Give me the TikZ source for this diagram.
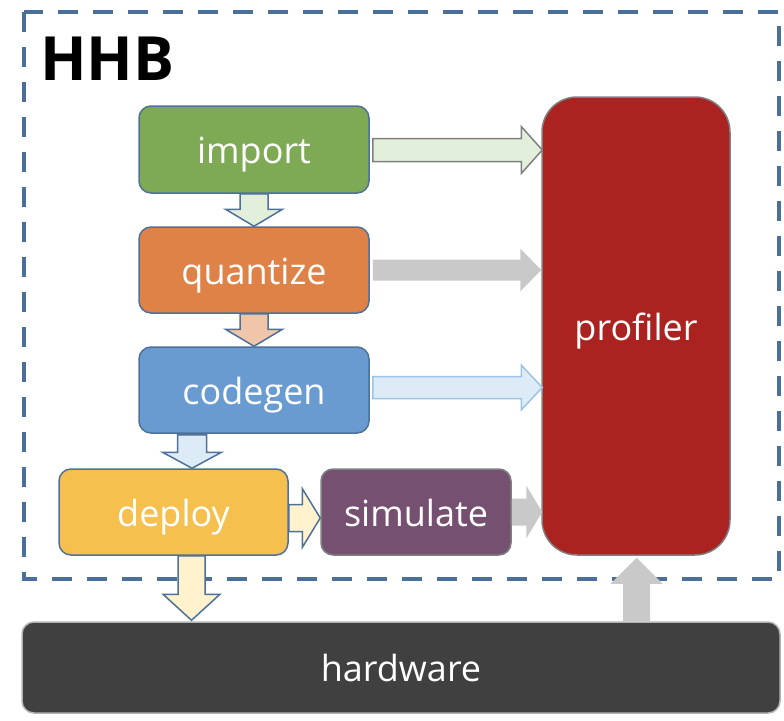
\documentclass[tikz,border=0pt]{standalone}
\usepackage{fontspec}
\setmainfont{Open Sans}
\usetikzlibrary{calc}
\definecolor{cgreen}{HTML}{7EAA55}
\definecolor{corange}{HTML}{DE8248}
\definecolor{cblue}{HTML}{6A9BD0}
\definecolor{cyellow}{HTML}{F5C04E}
\definecolor{cpurple}{HTML}{765071}
\definecolor{cred}{HTML}{AA2320}
\definecolor{cdark}{HTML}{404040}
\definecolor{cborder}{HTML}{4E7099}
\definecolor{cdash}{HTML}{4A6F99}
\definecolor{lgreen}{HTML}{E2EFDA}
\definecolor{lpeach}{HTML}{F0C6AA}
\definecolor{lblue}{HTML}{DDEBF7}
\definecolor{lblueb}{HTML}{9DC3E6}
\definecolor{lyellow}{HTML}{FFF2CC}
\definecolor{cgray}{HTML}{C9C9C9}
\definecolor{cgrayb}{HTML}{808080}
\newcommand\harrow[6]{\path[#1] let \p1=#2, \p2=#3 in
  (\x1,\y1+#4) -- (\x2-#6,\y1+#4) -- (\x2-#6,\y1+#5) -- (\x2,\y1) --
  (\x2-#6,\y1-#5) -- (\x2-#6,\y1-#4) -- (\x1,\y1-#4) -- cycle;}
\newcommand\varrow[6]{\path[#1] let \p1=#2, \p2=#3 in
  (\x1-#4,\y1) -- (\x1-#4,\y2+#6) -- (\x1-#5,\y2+#6) -- (\x1,\y2) --
  (\x1+#5,\y2+#6) -- (\x1+#4,\y2+#6) -- (\x1+#4,\y1) -- cycle;}
\tikzset{
  box/.style={rounded corners=12pt, draw=cborder, line width=1.5pt, text=white,
    font=\fontsize{36}{40}\selectfont, inner sep=0pt, text height=28pt, text depth=0pt},
  arrgreen/.style={fill=lgreen, draw=cborder, line width=1.5pt, line join=miter},
  arrgreenr/.style={fill=lgreen, draw=cgrayb, line width=1.5pt, line join=miter},
  arrpeach/.style={fill=lpeach, draw=cborder, line width=1.5pt, line join=miter},
  arrblue/.style={fill=lblue, draw=cborder, line width=1.5pt, line join=miter},
  arrbluer/.style={fill=lblue, draw=lblueb, line width=1.5pt, line join=miter},
  arryellow/.style={fill=lyellow, draw=cborder, line width=1.5pt, line join=miter},
  arrgray/.style={fill=cgray},
}
\begin{document}
\begin{tikzpicture}[x=1pt,y=-1pt]
\useasboundingbox (0,0) rectangle (784,720);
% dashed frame
\draw[cdash, line width=4pt, dash pattern=on 20pt off 15pt] (24,12) rectangle (779,579);
\node[anchor=base west, inner sep=0pt, font=\fontsize{61}{64}\selectfont\bfseries] (hhb) at (40,80) {HHB};
% boxes
\node[box, fill=cgreen, minimum width=230pt, minimum height=87pt] (import) at (254,149.5) {import};
\node[box, fill=corange, minimum width=230pt, minimum height=86pt] (quantize) at (254,270) {quantize};
\node[box, fill=cblue, minimum width=230pt, minimum height=86pt] (codegen) at (254,390) {codegen};
\node[box, fill=cyellow, minimum width=229pt, minimum height=86pt] (deploy) at (173.5,512) {deploy};
\node[box, fill=cpurple, draw=cgrayb, minimum width=190pt, minimum height=86pt] (simulate) at (416,512) {simulate};
\node[box, fill=cred, draw=cgrayb, rounded corners=35pt, minimum width=188pt, minimum height=458pt] (profiler) at (636,326) {profiler};
\node[box, fill=cdark, draw=cgrayb!60, minimum width=758pt, minimum height=91pt] (hardware) at (401,667.5) {hardware};
% vertical block arrows
\varrow{arrgreen}{(import.south)}{(quantize.north)}{14pt}{28.5pt}{17pt}
\varrow{arrpeach}{(quantize.south)}{(codegen.north)}{14pt}{28.5pt}{17pt}
\varrow{arrblue}{($(codegen.south)+(-62,1)$)}{(deploy.north)}{14.5pt}{29.5pt}{16pt}
\varrow{arryellow}{($(deploy.south)+(18,0)$)}{($(hardware.north)+(0,-1)$)}{13.5pt}{28.5pt}{26pt}
\varrow{arrgray}{($(profiler.south |- hardware.north)+(0.5,0)$)}{($(profiler.south)+(0,2)$)}{13.5pt}{26pt}{-26pt}
% horizontal block arrows
\harrow{arrgreenr}{($(import.east)+(3,0.5)$)}{($(profiler.west)+(1,0)$)}{11.5pt}{23.5pt}{21pt}
\harrow{arrgray}{($(quantize.east)+(3,0)$)}{(profiler.west)}{10.5pt}{21.5pt}{21pt}
\harrow{arrbluer}{($(codegen.east)+(3,-2.5)$)}{($(profiler.west)+(1,0)$)}{11pt}{22.5pt}{21pt}
\harrow{arryellow}{($(deploy.east)+(0,6)$)}{(simulate.west)}{13.5pt}{29.5pt}{18pt}
\harrow{arrgray}{(simulate.east)}{($(profiler.west)+(1,0)$)}{13.5pt}{26.5pt}{16pt}
\end{tikzpicture}
\end{document}
